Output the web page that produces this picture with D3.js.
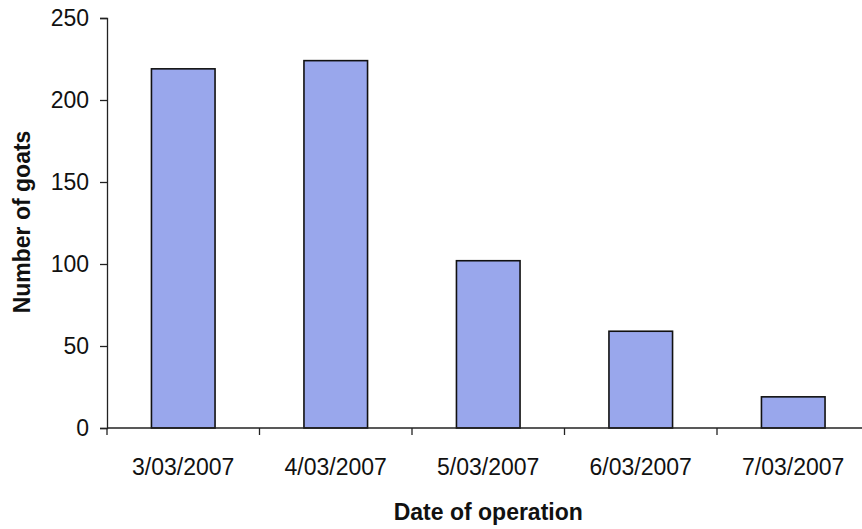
<!DOCTYPE html>
<html>
<head>
<meta charset="utf-8">
<script src="https://cdn.jsdelivr.net/npm/d3@7/dist/d3.min.js"></script>
<style>
  html, body { margin: 0; padding: 0; background: #fff; }
  svg { display: block; font-family: "Liberation Sans", Arial, sans-serif; }
</style>
</head>
<body>
<svg id="chart" width="862" height="529"></svg>
<script>
// Goats operated on per day
const dates = ["3/03/2007", "4/03/2007", "5/03/2007", "6/03/2007", "7/03/2007"];
const goats = [219, 224, 102, 59, 19];
const yTicks = [0, 50, 100, 150, 200, 250];

const svg = d3.select("#chart");
const plotLeft = 107, plotRight = 869.5, plotTop = 18, plotBottom = 428;

const x = d3.scaleBand().domain(dates).range([plotLeft, plotRight])
  .paddingInner(0.583).paddingOuter(0.2915);
const xBoundary = d3.scaleBand().domain(dates).range([plotLeft, plotRight]);
const y = d3.scaleLinear().domain([0, 250]).range([plotBottom, plotTop]);

// bars
svg.append("g").selectAll("rect").data(dates).join("rect")
  .attr("x", d => x(d))
  .attr("width", x.bandwidth())
  .attr("y", (d, i) => y(goats[i]))
  .attr("height", (d, i) => y(0) - y(goats[i]))
  .attr("fill", "#99a7ec")
  .attr("stroke", "#111")
  .attr("stroke-width", 1.6);

// y axis
const yAxis = svg.append("g").attr("transform", `translate(${plotLeft},0)`)
  .call(d3.axisLeft(y).tickValues(yTicks).tickSize(7).tickPadding(11));
yAxis.select(".domain").attr("stroke", "#222").attr("stroke-width", 1.3);
yAxis.selectAll(".tick line").attr("stroke", "#222").attr("stroke-width", 1.3);
yAxis.selectAll(".tick text").attr("font-size", 23).attr("fill", "#111")
  .attr("font-family", "Liberation Sans, Arial, sans-serif");

// x axis: ticks between categories
const xAxisG = svg.append("g").attr("transform", `translate(0,${plotBottom})`);
xAxisG.append("line").attr("x1", plotLeft).attr("x2", plotRight)
  .attr("stroke", "#222").attr("stroke-width", 1.3);
const boundaries = dates.map(d => xBoundary(d)).concat([plotRight]);
xAxisG.selectAll("line.tk").data(boundaries).join("line").attr("class", "tk")
  .attr("x1", d => d).attr("x2", d => d).attr("y1", 0).attr("y2", 7)
  .attr("stroke", "#222").attr("stroke-width", 1.3);
xAxisG.selectAll("text").data(dates).join("text")
  .attr("x", d => xBoundary(d) + xBoundary.bandwidth() / 2)
  .attr("y", 47)
  .attr("text-anchor", "middle")
  .attr("font-size", 23).attr("fill", "#111")
  .text(d => d);

// axis titles
svg.append("text")
  .attr("x", (plotLeft + plotRight) / 2).attr("y", 520)
  .attr("text-anchor", "middle").attr("font-size", 23).attr("font-weight", "bold")
  .attr("fill", "#111").text("Date of operation");
svg.append("text")
  .attr("transform", "translate(30,222) rotate(-90)")
  .attr("text-anchor", "middle").attr("font-size", 23).attr("font-weight", "bold")
  .attr("fill", "#111").text("Number of goats");
</script>
</body>
</html>
